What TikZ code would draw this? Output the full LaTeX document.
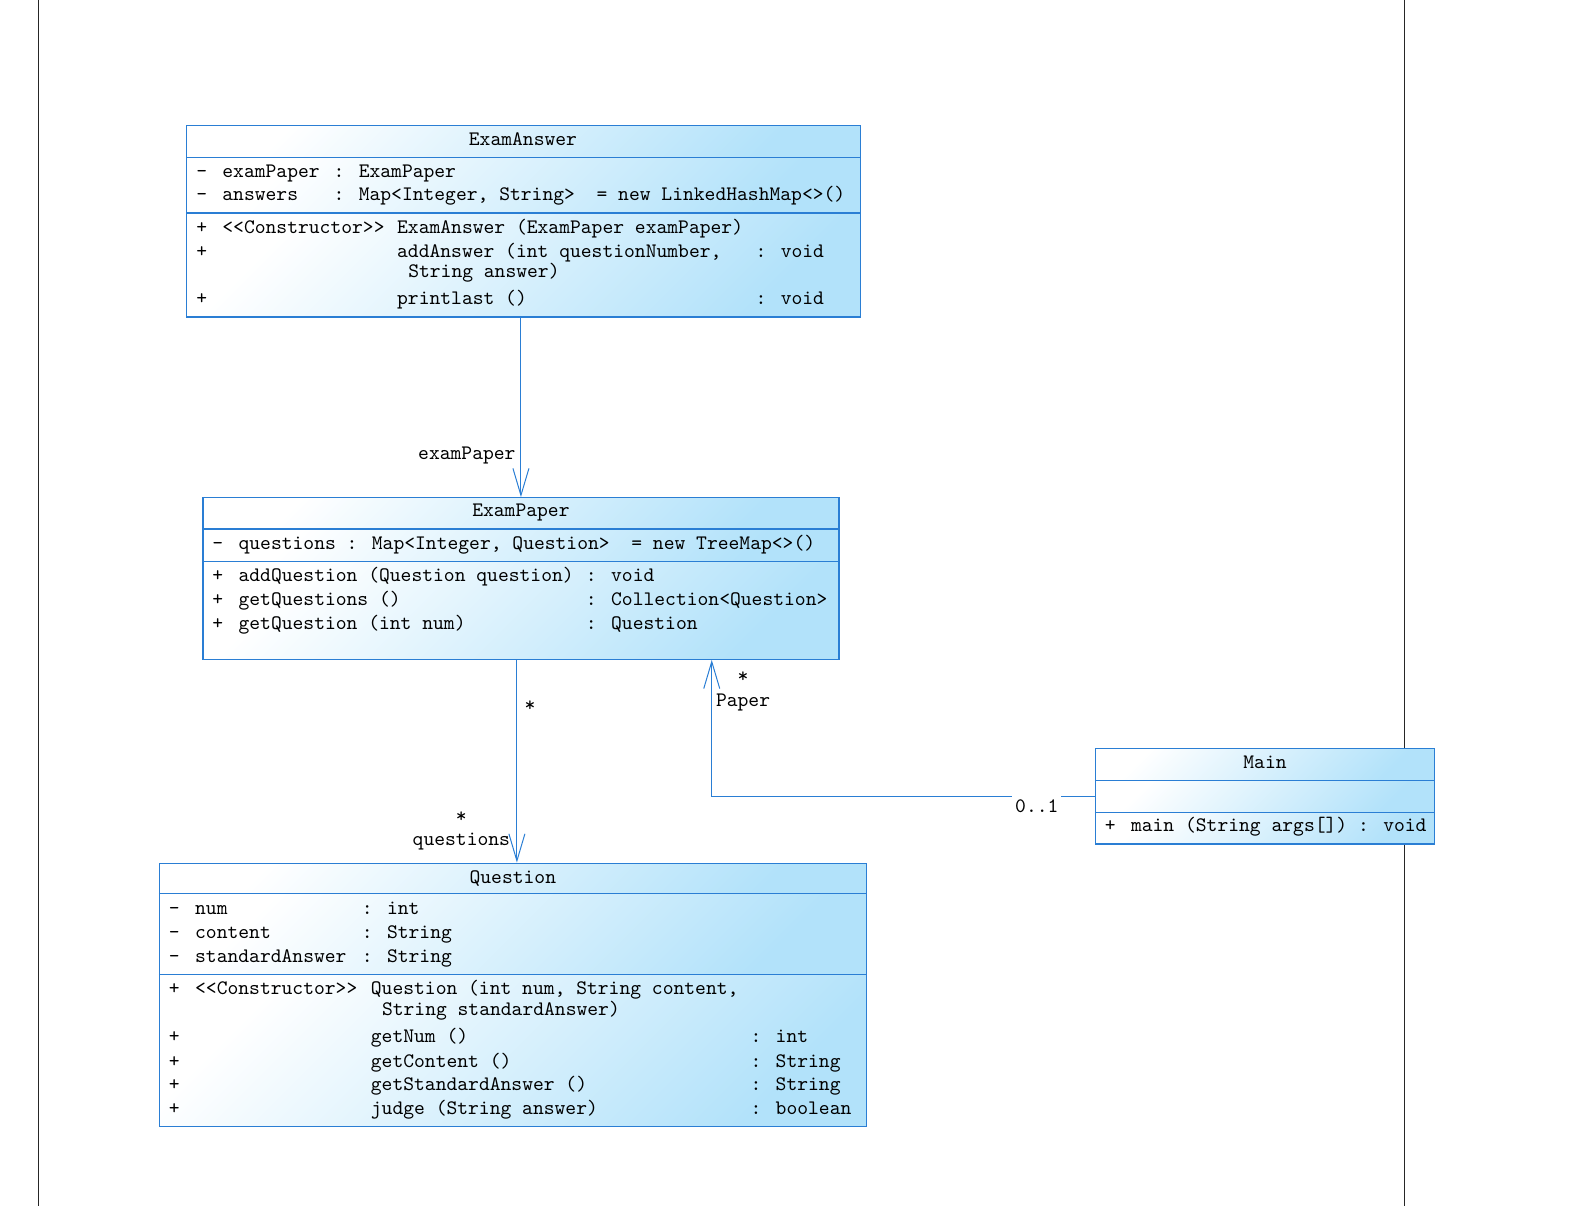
\documentclass[tikz,border=0pt]{standalone}
\usepackage{tikz}
\usetikzlibrary{arrows.meta,positioning,fit}
\definecolor{umlBlue}{RGB}{42,126,212}
\definecolor{umlFill}{RGB}{178,226,250}
\newcommand{\umlvis}[1]{\makebox[13.1pt][l]{#1}}

\begin{document}
\begin{tikzpicture}[x=0.505pt, y=-0.505pt,
  compfill/.style={top color=white, bottom color=umlFill, shading angle=45},
  umlbox/.style={draw=umlBlue, line width=0.6pt, inner sep=0pt},
  umlsep/.style={umlBlue, line width=0.6pt},
  mem/.style={anchor=west, inner sep=0pt, text height=7pt, text depth=2pt,
    font=\fontsize{10.3pt}{12pt}\selectfont\ttfamily},
  ttl/.style={mem, anchor=center},
  lbl/.style={mem, anchor=center},
  star/.style={lbl, anchor=base, text height=6.5pt, text depth=0pt},
  assoc/.style={umlBlue, line width=0.5pt, -{Straight Barb[length=13.5pt, width=8pt]}}]
  \useasboundingbox (0,0) rectangle (1568,1195);
  % page margins
  \draw[black!85, line width=0.5pt] (38,0) -- (38,1195);
  \draw[black!85, line width=0.5pt] (1391,0) -- (1391,1195);

  % ExamAnswer
  \shade[compfill] (185,124) rectangle (852,156);
  \shade[compfill] (185,156) rectangle (852,211);
  \shade[compfill] (185,211) rectangle (852,314);
  \node[umlbox, fit={(185,124) (852,314)}] (ea) {};
  \draw[umlsep] (ea.west |- 0,156) -- (ea.east |- 0,156);
  \draw[umlsep] (ea.west |- 0,211) -- (ea.east |- 0,211);
  \node[ttl] (ea-name) at (518,139) {ExamAnswer};
  \node[mem] (ea-a1) at (194,171) {\umlvis{-}examPaper};
  \node[mem] (ea-a1t) at (330,171) {: ExamPaper};
  \node[mem] (ea-a2) at (194,194) {\umlvis{-}answers};
  \node[mem] (ea-a2t) at (330,194) {: Map<Integer, String>~~= new LinkedHashMap<>()};
  \node[mem] (ea-m1) at (194,226) {\umlvis{+}<<Constructor>>};
  \node[mem] (ea-m1n) at (393,226) {ExamAnswer (ExamPaper examPaper)};
  \node[mem] (ea-m2) at (194,250) {+};
  \node[mem] (ea-m2n) at (393,250) {addAnswer (int questionNumber,};
  \node[mem] (ea-m2c) at (404,270) {String answer)};
  \node[mem] (ea-m2t) at (748,250) {: void};
  \node[mem] (ea-m3) at (194,297) {+};
  \node[mem] (ea-m3n) at (393,297) {printlast ()};
  \node[mem] (ea-m3t) at (748,297) {: void};

  % ExamPaper
  \shade[compfill] (201,493) rectangle (831,524);
  \shade[compfill] (201,524) rectangle (831,556);
  \shade[compfill] (201,556) rectangle (831,653);
  \node[umlbox, fit={(201,493) (831,653)}] (ep) {};
  \draw[umlsep] (ep.west |- 0,524) -- (ep.east |- 0,524);
  \draw[umlsep] (ep.west |- 0,556) -- (ep.east |- 0,556);
  \node[ttl] (ep-name) at (516,507) {ExamPaper};
  \node[mem] (ep-a1) at (210,539) {\umlvis{-}questions : Map<Integer, Question>~~= new TreeMap<>()};
  \node[mem] (ep-m1) at (210,571) {\umlvis{+}addQuestion (Question question)};
  \node[mem] (ep-m1t) at (580,571) {: void};
  \node[mem] (ep-m2) at (210,595) {\umlvis{+}getQuestions ()};
  \node[mem] (ep-m2t) at (580,595) {: Collection<Question>};
  \node[mem] (ep-m3) at (210,619) {\umlvis{+}getQuestion (int num)};
  \node[mem] (ep-m3t) at (580,619) {: Question};

  % Question
  \shade[compfill] (158,855) rectangle (858,885);
  \shade[compfill] (158,885) rectangle (858,965);
  \shade[compfill] (158,965) rectangle (858,1116);
  \node[umlbox, fit={(158,855) (858,1116)}] (q) {};
  \draw[umlsep] (q.west |- 0,885) -- (q.east |- 0,885);
  \draw[umlsep] (q.west |- 0,965) -- (q.east |- 0,965);
  \node[ttl] (q-name) at (508,870) {Question};
  \node[mem] (q-a1) at (167,901) {\umlvis{-}num};
  \node[mem] (q-a1t) at (358,901) {: int};
  \node[mem] (q-a2) at (167,925) {\umlvis{-}content};
  \node[mem] (q-a2t) at (358,925) {: String};
  \node[mem] (q-a3) at (167,948) {\umlvis{-}standardAnswer};
  \node[mem] (q-a3t) at (358,948) {: String};
  \node[mem] (q-m1) at (167,980) {\umlvis{+}<<Constructor>>};
  \node[mem] (q-m1n) at (367,980) {Question (int num, String content,};
  \node[mem] (q-m1c) at (378,1001) {String standardAnswer)};
  \node[mem] (q-m2) at (167,1028) {+};
  \node[mem] (q-m2n) at (367,1028) {getNum ()};
  \node[mem] (q-m2t) at (743,1028) {: int};
  \node[mem] (q-m3) at (167,1052) {+};
  \node[mem] (q-m3n) at (367,1052) {getContent ()};
  \node[mem] (q-m3t) at (743,1052) {: String};
  \node[mem] (q-m4) at (167,1075) {+};
  \node[mem] (q-m4n) at (367,1075) {getStandardAnswer ()};
  \node[mem] (q-m4t) at (743,1075) {: String};
  \node[mem] (q-m5) at (167,1099) {+};
  \node[mem] (q-m5n) at (367,1099) {judge (String answer)};
  \node[mem] (q-m5t) at (743,1099) {: boolean};

  % Main
  \shade[compfill] (1085,741) rectangle (1421,773);
  \shade[compfill] (1085,773) rectangle (1421,805);
  \shade[compfill] (1085,805) rectangle (1421,836);
  \node[umlbox, fit={(1085,741) (1421,836)}] (m) {};
  \draw[umlsep] (m.west |- 0,773) -- (m.east |- 0,773);
  \draw[umlsep] (m.west |- 0,805) -- (m.east |- 0,805);
  \node[ttl] (m-name) at (1253,756) {Main};
  \node[mem] (m-m1) at (1094,819) {\umlvis{+}main (String args[]) : void};

  % Associations
  \coordinate (qx) at (512,0);
  \coordinate (px) at (705,0);
  \draw[assoc] (ea.south -| ep.north) -- (ep.north);
  \draw[assoc] (ep.south -| qx) -- (q.north -| qx);
  \draw[assoc] (m.west) -| (ep.south -| px);

  % Role names and multiplicities
  \node[lbl, anchor=east] (lbl-ep) at (511,450) {examPaper};
  \node[star] (lbl-s1) at (525,705) {*};
  \node[star] (lbl-s2) at (457,815) {*};
  \node[lbl] (lbl-qs) at (457,833) {questions};
  \node[star] (lbl-s3) at (736,676) {*};
  \node[lbl] (lbl-pp) at (736,695) {Paper};
  \node[lbl, fill=white, inner xsep=1.5pt, inner ysep=2pt] (lbl-01) at (1027,800) {0..1};
\end{tikzpicture}
\end{document}
